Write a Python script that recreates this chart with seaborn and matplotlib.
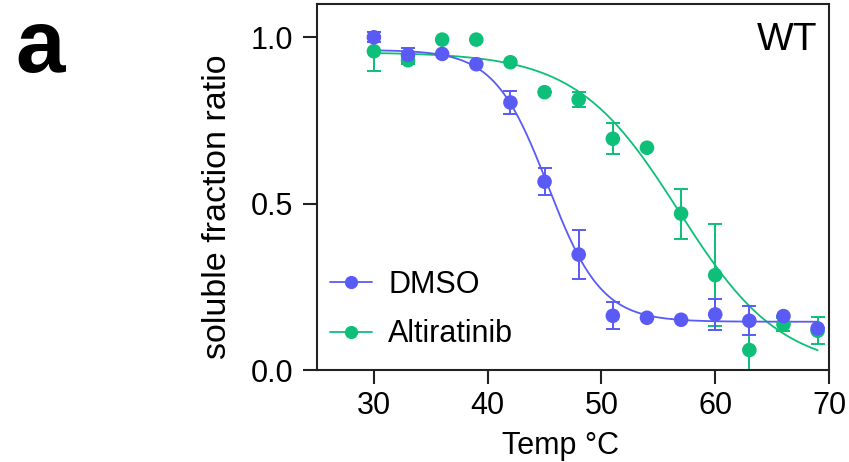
import numpy as np
import matplotlib
matplotlib.use("Agg")
import matplotlib.pyplot as plt
from matplotlib.lines import Line2D
import seaborn as sns

# ---------------- data ----------------
temps = [30, 33, 36, 39, 42, 45, 48, 51, 54, 57, 60, 63, 66, 69]

dmso_mean = [1.000, 0.947, 0.950, 0.919, 0.804, 0.566, 0.347, 0.163, 0.157, 0.151, 0.167, 0.148, 0.162, 0.125]
dmso_err = [0.015, 0.022, 0.0, 0.0, 0.034, 0.040, 0.074, 0.040, 0.0, 0.0, 0.046, 0.044, 0.0, 0.0]

alti_mean = [0.958, 0.931, 0.993, 0.993, 0.925, 0.835, 0.813, 0.695, 0.668, 0.470, 0.285, 0.060, 0.137, 0.118]
alti_err = [0.058, 0.010, 0.0, 0.0, 0.0, 0.0, 0.022, 0.046, 0.0, 0.075, 0.153, 0.085, 0.020, 0.041]

# Boltzmann fit parameters (top, bottom, Tm, slope)
dmso_fit = [0.962, 0.145, 45.3, 2.35]
alti_fit = [0.955, 0.0, 56.8, 4.5]

labels = ["DMSO", "Altiratinib"]
blue = "#5A5AF5"
green = "#0DBF78"


def boltzmann(t, p):
    top, bottom, tm, s = p
    return bottom + (top - bottom) / (1 + np.exp((t - tm) / s))


# ---------------- figure ----------------
sns.set_style("ticks")
plt.rcParams["font.family"] = ["Liberation Sans", "DejaVu Sans"]
plt.rcParams["text.color"] = "black"
plt.rcParams["xtick.color"] = "black"
plt.rcParams["ytick.color"] = "black"

fig = plt.figure(figsize=(8.49, 4.62), dpi=100)
ax = fig.add_axes([317 / 849, 1 - 370 / 462, (829 - 317) / 849, (370 - 4) / 462])

series = [
    (alti_mean, alti_err, alti_fit, green),
    (dmso_mean, dmso_err, dmso_fit, blue),
]
for mean, err, fit, col in series:
    tt = np.linspace(temps[0], temps[-1], 300)
    sns.lineplot(x=tt, y=boltzmann(tt, fit), color=col, lw=1.3, ax=ax)
    ax.errorbar(temps, mean, yerr=err, fmt="none", ecolor=col, elinewidth=1.4,
                capsize=5, capthick=1.4)
    sns.scatterplot(x=temps, y=mean, color=col, s=110, edgecolor="none", ax=ax, zorder=3)

ax.set_xlim(25, 70)
ax.set_ylim(0, 1.1)
ax.set_xticks([30, 40, 50, 60, 70])
ax.set_yticks([0.0, 0.5, 1.0])
ax.set_yticklabels(["0.0", "0.5", "1.0"])
ax.tick_params(axis="both", labelsize=22, length=10, width=1.5, color="#222222",
               labelcolor="black", direction="out")
ax.tick_params(axis="x", pad=5)
ax.tick_params(axis="y", pad=7)
for sp in ax.spines.values():
    sp.set_linewidth(1.5)
    sp.set_color("#222222")
ax.set_xlabel("")
ax.set_ylabel("")

# labels
fig.text(561 / 849, 1 - 454 / 462, "Temp °C", fontsize=22, ha="center", va="baseline")
fig.text(217 / 849, 1 - 206.5 / 462, "soluble fraction ratio", fontsize=24.5,
         rotation=90, ha="center", va="center")
fig.text(817 / 849, 1 - 50 / 462, "WT", fontsize=28, ha="right", va="baseline")
fig.text(15 / 849, 1 - 72 / 462, "a", fontsize=64, fontweight="bold", ha="left",
         va="baseline")

handles = [
    Line2D([], [], color=blue, lw=1.3, marker="o", markersize=9.5, markeredgecolor="none"),
    Line2D([], [], color=green, lw=1.3, marker="o", markersize=9.5, markeredgecolor="none"),
]
ax.legend(handles, labels, loc="center left", bbox_to_anchor=(330 / 849, 1 - 309.5 / 462),
          bbox_transform=fig.transFigure, frameon=False, fontsize=22, borderpad=0,
          borderaxespad=0, handlelength=1.36, handletextpad=0.55, labelspacing=0.65)

fig.savefig("out.png", dpi=100)
